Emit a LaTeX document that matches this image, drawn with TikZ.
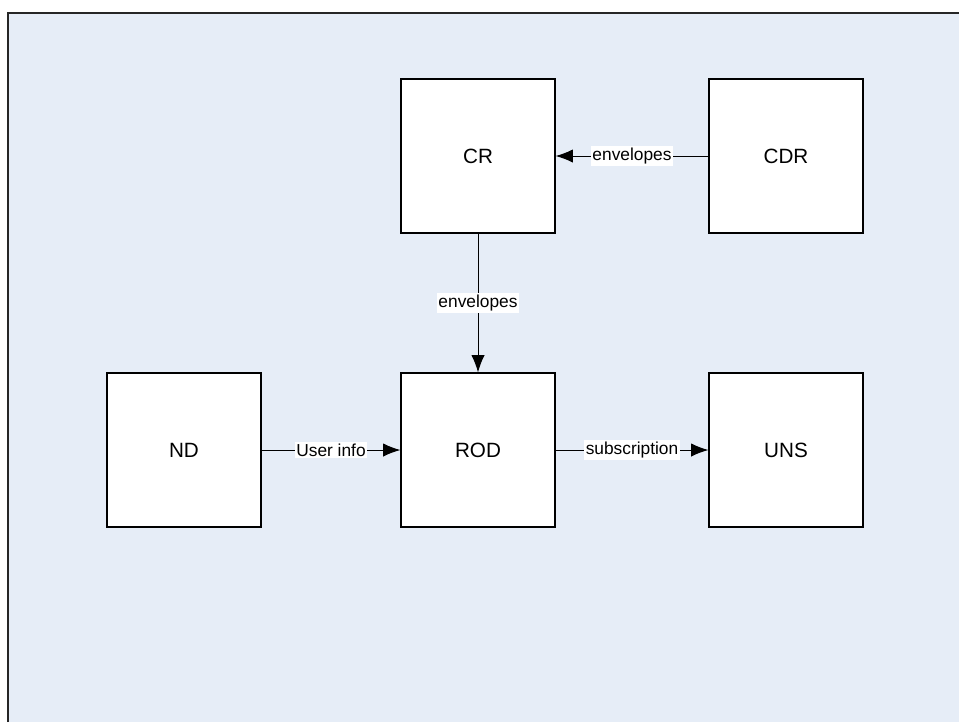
\documentclass[tikz,border=0pt]{standalone}
\usepackage{fontspec}
\setmainfont{Liberation Sans}
\usetikzlibrary{arrows.meta}
\definecolor{paleblue}{RGB}{230,237,247}
\tikzset{
	block/.style={draw=black, fill=white, line width=0.9pt, minimum width=115.5pt, minimum height=115.5pt, inner sep=0pt, font=\fontsize{15.5}{18}\selectfont},
	flow/.style={draw=black, line width=0.75pt, -{Latex[length=13pt, width=10pt]}},
	tag/.style={fill=white, inner sep=1.2pt, font=\fontsize{13}{15}\selectfont}
}
\begin{document}
\begin{tikzpicture}[x=0.75pt, y=-0.75pt]
	\useasboundingbox (0,0) rectangle (959,722);
	\fill[paleblue] (8,13) rectangle (959,722);
	\draw[black!85, line width=1.2pt] (8,722)--(8,13)--(959,13);
	\node[block] (cr)  at (478,156) {CR};
	\node[block] (cdr) at (786,156) {CDR};
	\node[block] (nd)  at (184,450) {ND};
	\node[block] (rod) at (478,450) {ROD};
	\node[block] (uns) at (786,450) {UNS};
	\draw[flow] (cdr) -- node[tag] {envelopes} (cr);
	\draw[flow] (cr) -- node[tag] {envelopes} (rod);
	\draw[flow] (nd) -- node[tag] {User info} (rod);
	\draw[flow] (rod) -- node[tag] {subscription} (uns);
\end{tikzpicture}
\end{document}
